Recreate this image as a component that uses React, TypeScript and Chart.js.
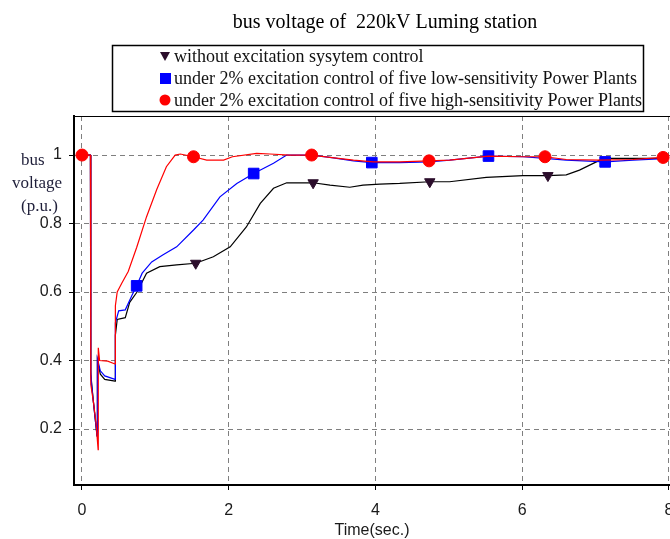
import React, { useEffect, useRef } from 'react';
import { Chart, registerables } from 'chart.js';

Chart.register(...registerables);

// ---- text ----
const titleText = 'bus voltage of  220kV Luming station';
const xAxisTitle = 'Time(sec.)';
const yAxisTitleLines = ['bus', 'voltage', '(p.u.)'];
const seriesLabels = [
  'without excitation sysytem control',
  'under 2% excitation control of five low-sensitivity Power Plants',
  'under 2% excitation control of five high-sensitivity Power Plants',
];

// ---- data: without excitation control (black, triangles) ----
const blackT = [0, 0.115, 0.12, 0.155, 0.19, 0.205, 0.21, 0.25, 0.31, 0.45, 0.455, 0.48, 0.59, 0.65, 0.75, 0.88, 1.06, 1.29, 1.55, 1.79, 2.02, 2.24, 2.43, 2.61, 2.79, 3.15, 3.38, 3.65, 3.83, 4.06, 4.33, 4.74, 5.01, 5.51, 6.01, 6.35, 6.6, 6.78, 7.01, 7.1, 7.42, 8.0];
const blackV = [1.0, 1.0, 0.36, 0.28, 0.21, 0.18, 0.4, 0.36, 0.345, 0.34, 0.474, 0.52, 0.525, 0.57, 0.6, 0.655, 0.674, 0.679, 0.684, 0.703, 0.732, 0.79, 0.859, 0.903, 0.919, 0.919, 0.912, 0.906, 0.912, 0.915, 0.917, 0.922, 0.922, 0.935, 0.94, 0.94, 0.942, 0.956, 0.98, 0.99, 0.99, 0.99];
const blackMarkerT = [1.55, 3.15, 4.74, 6.35];

// ---- data: low-sensitivity plants (blue, squares) ----
const blueT = [0, 0.115, 0.12, 0.13, 0.155, 0.19, 0.205, 0.21, 0.25, 0.31, 0.45, 0.455, 0.5, 0.59, 0.68, 0.745, 0.82, 0.95, 1.1, 1.29, 1.52, 1.65, 1.88, 2.11, 2.34, 2.61, 2.79, 3.13, 3.38, 3.7, 3.95, 4.33, 4.73, 5.01, 5.54, 6.01, 6.31, 6.6, 7.13, 7.51, 8.0];
const blueV = [1.0, 1.0, 0.37, 0.33, 0.28, 0.21, 0.18, 0.405, 0.37, 0.355, 0.345, 0.51, 0.545, 0.548, 0.59, 0.618, 0.655, 0.688, 0.708, 0.732, 0.781, 0.81, 0.878, 0.917, 0.946, 0.976, 1.0, 1.0, 0.993, 0.983, 0.978, 0.978, 0.98, 0.985, 0.997, 0.995, 0.99, 0.985, 0.98, 0.985, 0.99];
const blueMarkerT = [0.745, 2.34, 3.95, 5.54, 7.13];

// ---- data: high-sensitivity plants (red, circles) ----
const redT = [0, 0.115, 0.12, 0.155, 0.19, 0.22, 0.222, 0.24, 0.35, 0.45, 0.455, 0.48, 0.54, 0.63, 0.745, 0.88, 1.02, 1.15, 1.27, 1.34, 1.52, 1.7, 1.93, 2.05, 2.38, 2.56, 2.83, 3.13, 3.38, 3.7, 3.97, 4.33, 4.73, 5.01, 5.54, 6.01, 6.31, 6.6, 7.06, 7.51, 7.92, 8.0];
const redV = [1.0, 1.0, 0.33, 0.28, 0.22, 0.14, 0.437, 0.4, 0.398, 0.39, 0.56, 0.6, 0.625, 0.66, 0.73, 0.82, 0.9, 0.966, 1.0, 1.003, 0.995, 0.985, 0.985, 0.995, 1.005, 1.003, 1.0, 1.0, 0.993, 0.985, 0.98, 0.98, 0.983, 0.985, 0.997, 0.995, 0.995, 0.987, 0.985, 0.987, 0.993, 0.993];
const redMarkerT = [0, 1.52, 3.13, 4.73, 6.31, 7.92];

// ---- ticks ----
const xTickLabelValues = [0, 2, 4, 6, 8];
const xTickLabels = ['0', '2', '4', '6', '8'];
const xMinorStep = 0.4;
const yTickLabelValues = [0.2, 0.4, 0.6, 0.8, 1.0];
const yTickLabels = ['0.2', '0.4', '0.6', '0.8', '1'];
const yMinorStep = 0.04;

const X_MIN = -0.109;
const X_MAX = 8.014;
const Y_MIN = 0.0365;
const Y_MAX = 1.114;

const COLORS = { black: '#000000', blackMarker: '#2b0d2b', blue: '#0000ff', red: '#ff0000' };
const GRID = '#7f7f7f';
const SERIF = '"Liberation Serif", "Times New Roman", serif';
const SANS = '"Liberation Sans", Arial, sans-serif';

const near = (a: number, b: number) => Math.abs(a - b) < 1e-6;

function buildTicks(min: number, max: number, step: number) {
  const out: { value: number }[] = [];
  const start = Math.ceil(min / step - 1e-9);
  for (let i = start; i * step <= max + 1e-9; i++) {
    out.push({ value: Math.round(i * step * 1000) / 1000 });
  }
  return out;
}

function toPoints(t: number[], v: number[]) {
  return t.map((x, i) => ({ x, y: v[i] }));
}

const decorPlugin = {
  id: 'decor',
  afterDraw(chart: any) {
    const { ctx, chartArea } = chart;
    ctx.save();
    // title
    ctx.font = `20px ${SERIF}`;
    ctx.fillStyle = '#000';
    ctx.textAlign = 'center';
    ctx.textBaseline = 'middle';
    ctx.fillText(titleText, 385, 23);

    // top frame of plot
    ctx.strokeStyle = '#000';
    ctx.lineWidth = 1;
    ctx.beginPath();
    ctx.moveTo(chartArea.left, chartArea.top + 0.5);
    ctx.lineTo(chartArea.right, chartArea.top + 0.5);
    ctx.stroke();

    // legend box
    ctx.lineWidth = 1.5;
    ctx.strokeRect(112.5, 45.5, 531, 66);
    const rows = [56, 78, 100];
    const mx = 165;
    ctx.font = `18px ${SERIF}`;
    ctx.textBaseline = 'middle';
    ctx.textAlign = 'left';
    rows.forEach((y, i) => {
      ctx.beginPath();
      if (i === 0) {
        ctx.fillStyle = COLORS.blackMarker;
        ctx.moveTo(mx - 5, y - 4);
        ctx.lineTo(mx + 5, y - 4);
        ctx.lineTo(mx, y + 5);
        ctx.closePath();
        ctx.fill();
      } else if (i === 1) {
        ctx.fillStyle = COLORS.blue;
        ctx.fillRect(mx - 5, y - 5, 11, 11);
      } else {
        ctx.fillStyle = COLORS.red;
        ctx.arc(mx, y, 5.5, 0, Math.PI * 2);
        ctx.fill();
      }
      ctx.fillStyle = '#111';
      ctx.fillText(seriesLabels[i], 174, y + 1);
    });

    // y axis title (horizontal, three lines)
    ctx.font = `17px ${SERIF}`;
    ctx.fillStyle = '#1f1f3a';
    const yx = [21, 12, 21];
    const yy = [161, 184, 207];
    yAxisTitleLines.forEach((s, i) => ctx.fillText(s, yx[i], yy[i]));
    ctx.restore();
  },
};

function makeDataset(label: string, t: number[], v: number[], markers: number[], color: string, markerColor: string, style: string, radius: number, rotation: number, order: number) {
  const isMarker = (ctx: any) => markers.some((m) => near(m, t[ctx.dataIndex]));
  return {
    label,
    data: toPoints(t, v),
    borderColor: color,
    borderWidth: 1.2,
    backgroundColor: markerColor,
    pointBackgroundColor: markerColor,
    pointBorderColor: markerColor,
    pointBorderWidth: 1,
    pointStyle: style,
    pointRotation: rotation,
    pointRadius: (ctx: any) => (isMarker(ctx) ? radius : 0),
    pointHoverRadius: (ctx: any) => (isMarker(ctx) ? radius : 0),
    tension: 0,
    fill: false,
    order,
  };
}

export default function App() {
  const ref = useRef<HTMLCanvasElement | null>(null);

  useEffect(() => {
    if (!ref.current) return;
    const chart = new Chart(ref.current, {
      type: 'line',
      data: {
        datasets: [
          makeDataset(seriesLabels[0], blackT, blackV, blackMarkerT, COLORS.black, COLORS.blackMarker, 'triangle', 6, 180, 3),
          makeDataset(seriesLabels[1], blueT, blueV, blueMarkerT, COLORS.blue, COLORS.blue, 'rect', 7.5, 0, 2),
          makeDataset(seriesLabels[2], redT, redV, redMarkerT, COLORS.red, COLORS.red, 'circle', 6, 0, 1),
        ] as any,
      },
      options: {
        animation: false,
        responsive: false,
        devicePixelRatio: 1,
        events: [],
        layout: { padding: { top: 116, left: 0, right: 0, bottom: 0 }, autoPadding: false },
        plugins: {
          legend: { display: false },
          tooltip: { enabled: false },
          title: { display: false },
        },
        scales: {
          x: {
            type: 'linear',
            min: X_MIN,
            max: X_MAX,
            afterBuildTicks: (scale: any) => {
              scale.ticks = buildTicks(0, 8, xMinorStep);
            },
            afterFit: (scale: any) => {
              scale.height = 54;
              scale.paddingLeft = 0;
              scale.paddingRight = 0;
            },
            ticks: {
              autoSkip: false,
              maxRotation: 0,
              padding: 11,
              color: '#1a1a1a',
              font: { family: SANS, size: 16 },
              callback: (value: any) => {
                const i = xTickLabelValues.findIndex((v) => near(v, Number(value)));
                return i >= 0 ? xTickLabels[i] : null;
              },
            },
            grid: {
              color: (ctx: any) => (xTickLabelValues.some((v) => near(v, ctx.tick?.value)) ? GRID : 'rgba(0,0,0,0)'),
              tickColor: '#000',
              tickLength: 5,
              tickWidth: 1,
              lineWidth: 1,
            },
            border: { display: true, color: '#000', width: 2, dash: [5, 4] },
            title: {
              display: true,
              text: xAxisTitle,
              color: '#1a1a1a',
              font: { family: SANS, size: 16, lineHeight: 1 },
              padding: 0,
            },
          },
          y: {
            type: 'linear',
            min: Y_MIN,
            max: Y_MAX,
            afterBuildTicks: (scale: any) => {
              scale.ticks = buildTicks(Y_MIN, Y_MAX, yMinorStep);
            },
            afterFit: (scale: any) => {
              scale.width = 74;
              scale.paddingTop = 0;
              scale.paddingBottom = 0;
            },
            ticks: {
              autoSkip: false,
              padding: 7,
              color: '#1a1a1a',
              font: { family: SANS, size: 16 },
              callback: (value: any) => {
                const i = yTickLabelValues.findIndex((v) => near(v, Number(value)));
                return i >= 0 ? yTickLabels[i] : null;
              },
            },
            grid: {
              color: (ctx: any) => (yTickLabelValues.some((v) => near(v, ctx.tick?.value)) ? GRID : 'rgba(0,0,0,0)'),
              tickColor: '#000',
              tickLength: 5,
              tickWidth: 1,
              lineWidth: 1,
            },
            border: { display: true, color: '#000', width: 2, dash: [5, 4] },
          },
        },
      } as any,
      plugins: [decorPlugin],
    });
    return () => chart.destroy();
  }, []);

  return (
    <div style={{ position: 'fixed', left: 0, top: 0, width: 670, height: 539, background: '#fff' }}>
      <canvas ref={ref} width={670} height={539} style={{ display: 'block', width: 670, height: 539 }} />
    </div>
  );
}
